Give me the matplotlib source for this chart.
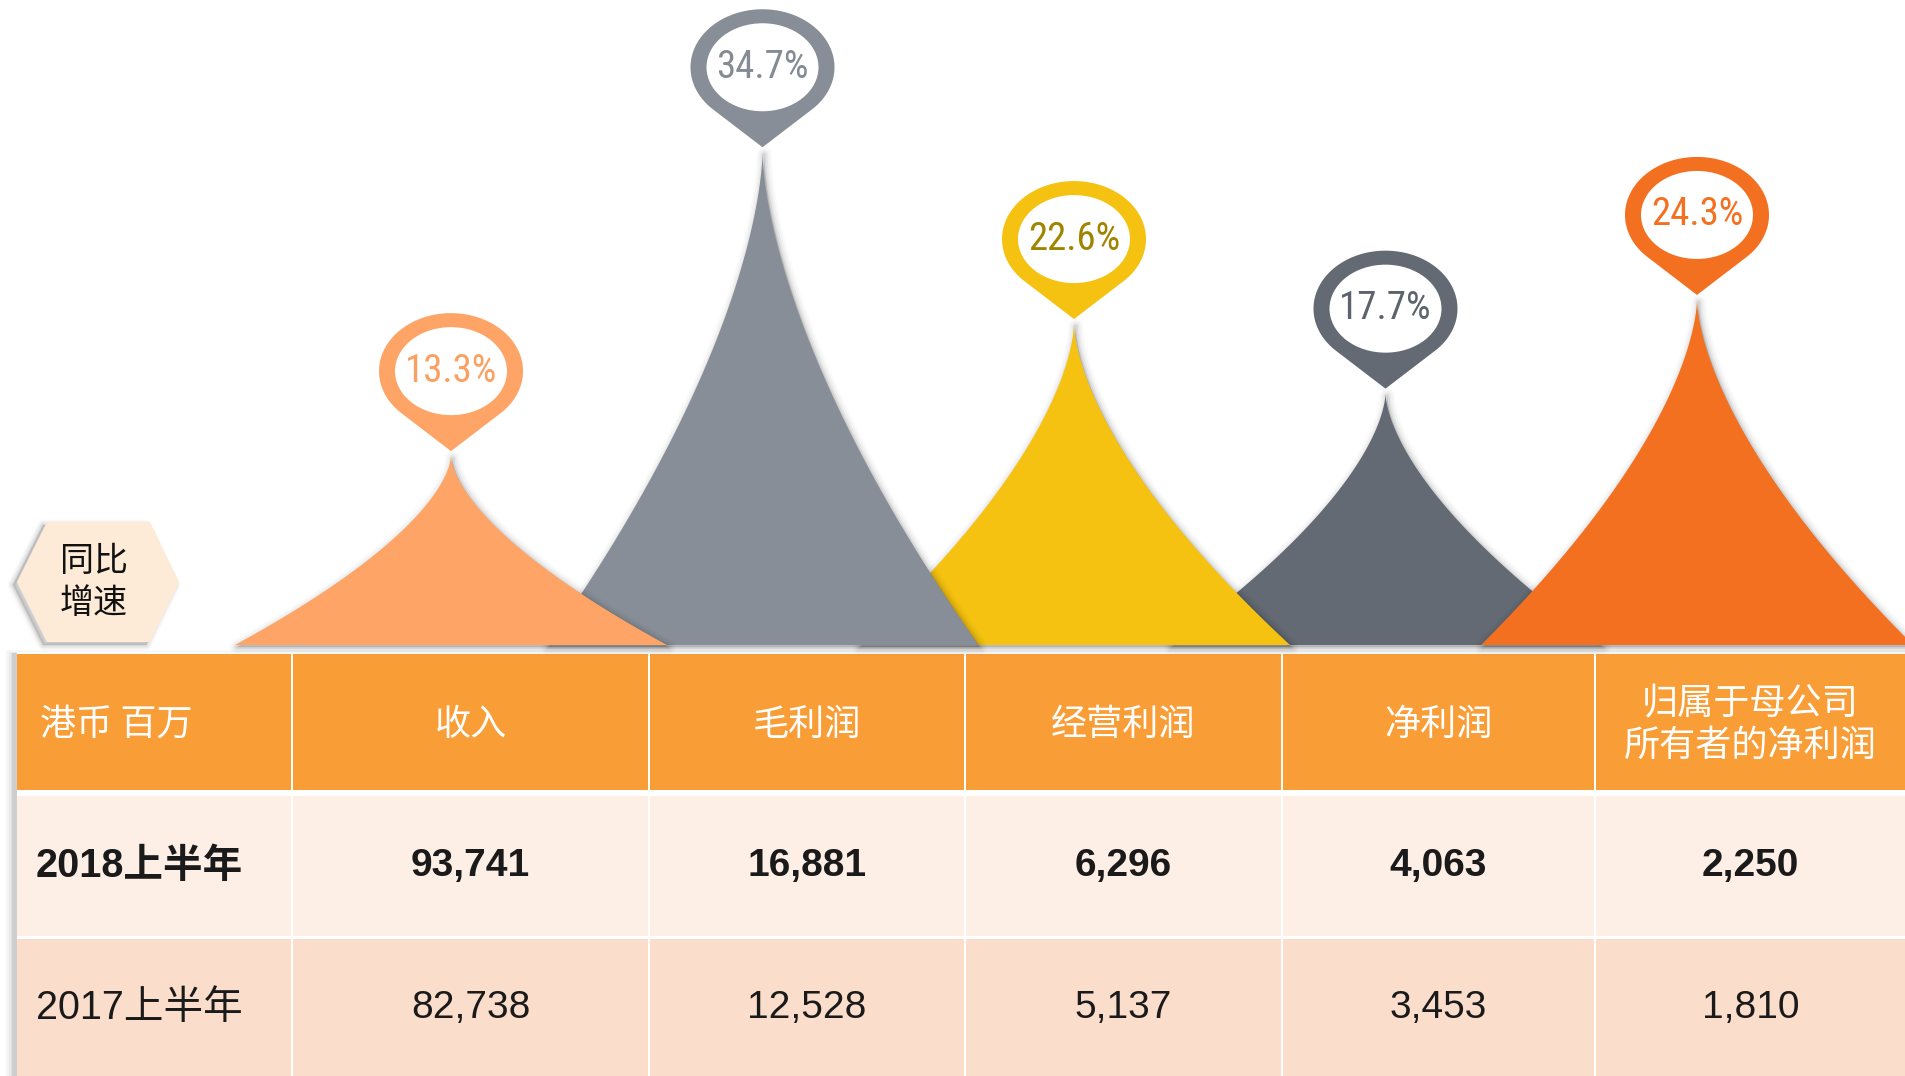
import numpy as np
import matplotlib
matplotlib.use("Agg")
import matplotlib.pyplot as plt
from matplotlib.patches import Polygon, Ellipse, Rectangle
import matplotlib.transforms as mtransforms
from matplotlib import font_manager as fm

# ---------------- data ----------------
metrics = ['收入', '毛利润', '经营利润', '净利润', '归属于母公司\n所有者的净利润']
growth = [13.3, 34.7, 22.6, 17.7, 24.3]          # 同比增速, %
growth_labels = ['13.3%', '34.7%', '22.6%', '17.7%', '24.3%']
periods = ['2018上半年', '2017上半年']
values_2018 = ['93,741', '16,881', '6,296', '4,063', '2,250']
values_2017 = ['82,738', '12,528', '5,137', '3,453', '1,810']
unit_label = '港币 百万'
badge_lines = ['同比', '增速']

# ---------------- style ----------------
peak_colors = ['#FDA466', '#878E97', '#F5C211', '#636A73', '#F37021']
text_colors = ['#FCA062', '#848B94', '#A08400', '#5C636C', '#F37021']
peak_z = [5, 4, 3, 1, 2]
header_bg = '#F99D37'
row_bgs = ['#FDEEE6', '#FBDDCB']
badge_bg = '#FDEBD8'

names = {f.name for f in fm.fontManager.ttflist}
narrow = None
for cand in ['Roboto Condensed', 'Liberation Sans Narrow', 'Open Sans Condensed']:
    if cand in names:
        narrow = cand
        break
sans = 'Liberation Sans'
CJK = ['Noto Sans CJK SC', 'DejaVu Sans']
if narrow is None:
    pct_family, pct_size = [sans, 'DejaVu Sans'], 24
else:
    pct_family, pct_size = [narrow, 'DejaVu Sans'], 28

W_FIG, H_FIG = 1906, 1076
fig = plt.figure(figsize=(W_FIG / 100, H_FIG / 100), dpi=100)
fig.patch.set_facecolor('white')

# ---------------- table (pixel coordinate axes) ----------------
tax = fig.add_axes([0, 0, 1, 1], zorder=0)
tax.set_xlim(0, W_FIG)
tax.set_ylim(H_FIG, 0)
tax.axis('off')

col_edges = [17, 292, 649, 965, 1282, 1595, 1915]
row_edges = [(654, 790), (796, 936), (939, 1085)]

# table shadow (left / top)
for s, a in [(9, 0.018), (7, 0.025), (5, 0.035), (3, 0.05), (1.5, 0.07)]:
    tax.add_patch(Rectangle((col_edges[0] - 3 - s, row_edges[0][0] - s * 0.5),
                            W_FIG + 20, H_FIG, facecolor='black', edgecolor='none',
                            alpha=a, zorder=1))
tax.add_patch(Rectangle((col_edges[0], row_edges[0][0] - 2), W_FIG, H_FIG,
                        facecolor='white', edgecolor='none', zorder=1.5))

bgs = [header_bg] + row_bgs
gap = 1.3
for r, (y0, y1) in enumerate(row_edges):
    for c in range(len(col_edges) - 1):
        x0 = col_edges[c] + (gap if c > 0 else 0)
        x1 = col_edges[c + 1] - gap
        tax.add_patch(Rectangle((x0, y0), x1 - x0, y1 - y0, facecolor=bgs[r],
                                edgecolor='none', zorder=2))

col_centers = [(col_edges[c] + col_edges[c + 1]) / 2 for c in range(len(col_edges) - 1)]
col_centers[-1] = (col_edges[-2] + W_FIG) / 2

hdr_y = 725
tax.text(40, hdr_y, unit_label, ha='left', va='center', color='white',
         fontsize=26, family=CJK, zorder=3)
for c, m in enumerate(metrics):
    tax.text(col_centers[c + 1], hdr_y, m, ha='center', va='center', color='white',
             fontsize=26, family=CJK, linespacing=1.22, zorder=3)

row_ys = [866, 1008]
row_vals = [values_2018, values_2017]
row_weights = ['bold', 'normal']
for r in range(2):
    tax.text(36, row_ys[r], periods[r], ha='left', va='center', color='#1A1A1A',
             fontsize=28.5, family=[sans, 'Noto Sans CJK SC', 'DejaVu Sans'],
             weight=row_weights[r], zorder=3)
    for c, v in enumerate(row_vals[r]):
        tax.text(col_centers[c + 1], row_ys[r], v, ha='center', va='center',
                 color='#1A1A1A', fontsize=28, family=[sans, 'DejaVu Sans'],
                 weight=row_weights[r], zorder=3)

# badge hexagon
hexv = [(17, 582), (47, 522), (150, 522), (179, 582), (150, 642), (47, 642)]
for s, a in [(8, 0.02), (6, 0.03), (4, 0.04), (2, 0.06)]:
    tax.add_patch(Polygon([(x - 4, y + 3) for x, y in hexv], closed=True,
                          facecolor='black', edgecolor='black', lw=s, alpha=a,
                          joinstyle='round', zorder=2))
tax.add_patch(Polygon(hexv, closed=True, facecolor=badge_bg, edgecolor='none', zorder=3))
tax.text(94, 561, badge_lines[0], ha='center', va='center', color='#111111',
         fontsize=24.5, family=CJK, zorder=4)
tax.text(94, 604, badge_lines[1], ha='center', va='center', color='#111111',
         fontsize=24.5, family=CJK, zorder=4)

# ---------------- peaks (data axes) ----------------
base_px = 645          # pixel row of peak bases (from top)
spacing_px = 311.5     # pixels between categories
first_px = 451         # pixel of first category
px_per_pct = 14.2
ax = fig.add_axes([0, 1 - base_px / H_FIG, 1, base_px / H_FIG], zorder=1)
ax.patch.set_alpha(0)
ax.set_xlim(-first_px / spacing_px, (W_FIG - first_px) / spacing_px)
ax.set_ylim(0, base_px / px_per_pct)
ax.axis('off')

half_w = 216 / spacing_px
tt = np.linspace(0, 1, 300)
rel = (1 - tt) ** 1.6
shadow_off = ax.transData + mtransforms.ScaledTranslation(1.2 / 72, -1.6 / 72,
                                                         fig.dpi_scale_trans)
for i, g in enumerate(growth):
    left = np.c_[i - half_w * rel, g * tt]
    right = np.c_[i + half_w * rel[::-1], g * tt[::-1]]
    verts = np.vstack([left, right])
    z = peak_z[i]
    for lw, a in [(11, 0.02), (8, 0.03), (5, 0.045), (2.5, 0.07)]:
        ax.add_patch(Polygon(verts, closed=True, facecolor='black', edgecolor='black',
                             lw=lw, alpha=a, joinstyle='round', transform=shadow_off,
                             clip_on=False, zorder=z - 0.5))
    ax.add_patch(Polygon(verts, closed=True, facecolor=peak_colors[i], edgecolor='none',
                         clip_on=False, zorder=z))

# pins (shape in pixels, anchored at each peak top)
tip_gap = 5
cy, rx_o, ry_o, rx_i, ry_i = 80, 72, 58, 56, 44
d = cy / ry_o
phi0 = -np.arcsin(1 / d)
phis = np.linspace(phi0, np.pi - phi0, 200)
pin_shape = [(0, 0)] + [(rx_o * np.cos(p), cy + ry_o * np.sin(p)) for p in phis]
pin_shape = [(x, y + tip_gap) for x, y in pin_shape]
for i, g in enumerate(growth):
    tr = mtransforms.Affine2D() + mtransforms.ScaledTranslation(i, g, ax.transData)
    ax.add_patch(Polygon(pin_shape, closed=True, facecolor=peak_colors[i],
                         edgecolor='none', transform=tr, clip_on=False, zorder=10))
    ax.add_patch(Ellipse((0, cy + tip_gap), 2 * rx_i, 2 * ry_i, facecolor='white',
                         edgecolor='none', transform=tr, clip_on=False, zorder=11))
    ax.text(0, cy + tip_gap, growth_labels[i], transform=tr, ha='center',
            va='center', color=text_colors[i], fontsize=pct_size, family=pct_family,
            zorder=12)

fig.savefig('out.png', dpi=100, facecolor='white')
